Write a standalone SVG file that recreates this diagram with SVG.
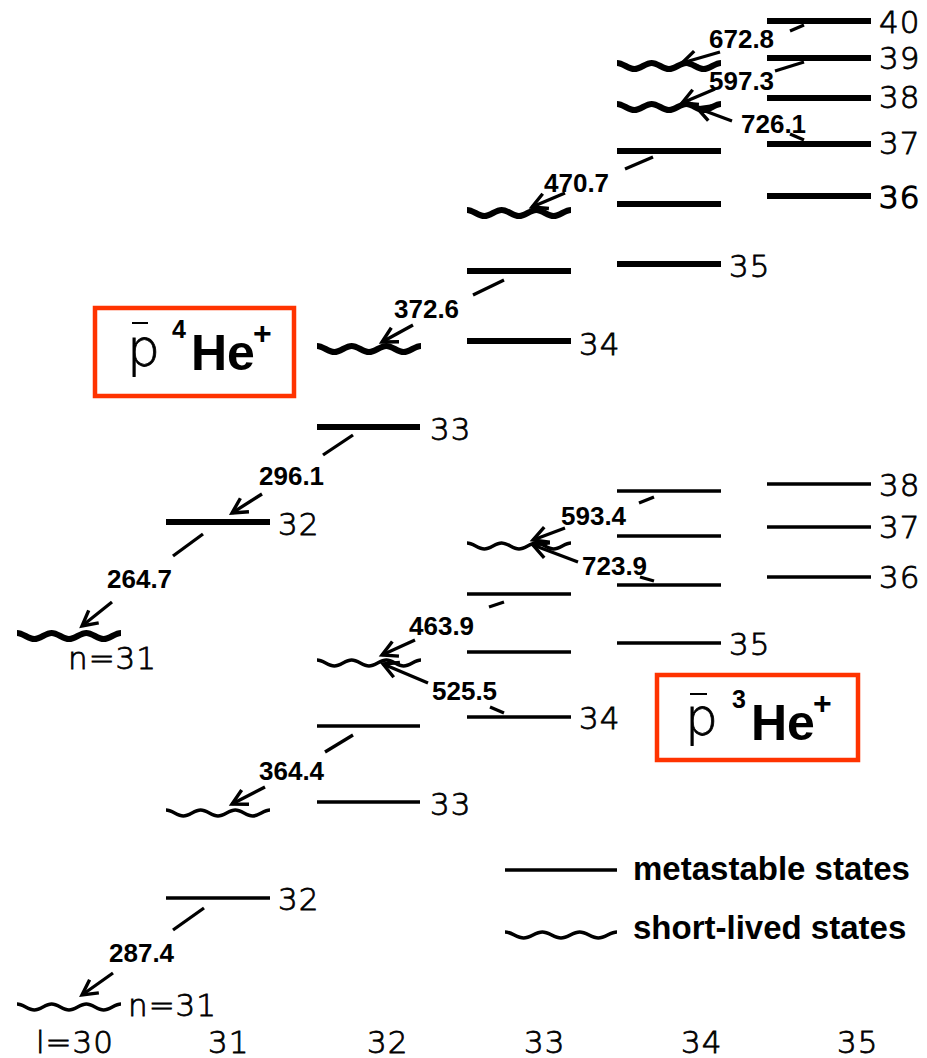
<svg xmlns="http://www.w3.org/2000/svg" xmlns:xlink="http://www.w3.org/1999/xlink" width="927" height="1058" viewBox="0 0 927 1058">
<style>
.thk{stroke:#000;stroke-width:6;fill:none}
.thn{stroke:#000;stroke-width:3.6;fill:none}
.tr{stroke:#000;stroke-width:3.3;fill:none}
.lv{font-family:"DejaVu Sans","Liberation Sans",sans-serif;font-weight:300;font-size:31px;fill:#000;stroke:#000;stroke-width:0.8px;letter-spacing:1px}
.tl{font-family:"Liberation Sans",Arial,sans-serif;font-weight:bold;font-size:26px;fill:#000}
.lg{font-family:"Liberation Sans",Arial,sans-serif;font-weight:bold;font-size:33px;fill:#000}
.box{fill:none;stroke:#ff3300;stroke-width:4.5}
.pf{font-family:"DejaVu Sans","Liberation Sans",sans-serif;font-weight:300;font-size:52px;fill:#000;stroke:#000;stroke-width:0.8px}
.bf{font-family:"Liberation Sans",Arial,sans-serif;font-weight:bold;fill:#000}
</style>
<defs>
<path id="wave" d="M0,-3 c6.2,0 11.1,6 17.33,6 s11.1,-6 17.33,-6 s11.1,6 17.33,6 s11.1,-6 17.33,-6 s11.1,6 17.33,6 s11.1,-6 17.33,-6"/>
<marker id="ah" markerUnits="userSpaceOnUse" markerWidth="30" markerHeight="30" viewBox="-20 -15 30 30" refX="0" refY="0" orient="auto" overflow="visible">
<path d="M-15,-8 L0,0 L-15,8" fill="none" stroke="#000" stroke-width="3.4"/>
</marker>
</defs>

<!-- upper group: pbar 4He+ -->
<g id="he4-l30-n31"><use href="#wave" class="thk" x="17" y="636"/><text class="lv" x="68" y="669">n=31</text></g>
<g id="he4-l31-n32"><line class="thk" x1="166" y1="522" x2="270" y2="522"/><text class="lv" x="278" y="535">32</text></g>
<g id="he4-l32-n33w"><use href="#wave" class="thk" x="317" y="349"/></g>
<g id="he4-l32-n33"><line class="thk" x1="317" y1="427" x2="420" y2="427"/><text class="lv" x="430" y="440">33</text></g>
<g id="he4-l33-w"><use href="#wave" class="thk" x="467" y="213"/></g>
<g id="he4-l33-a"><line class="thk" x1="467" y1="271" x2="571" y2="271"/></g>
<g id="he4-l33-n34"><line class="thk" x1="467" y1="341" x2="571" y2="341"/><text class="lv" x="579" y="355">34</text></g>
<g id="he4-l34-w1"><use href="#wave" class="thk" x="617" y="66"/></g>
<g id="he4-l34-w2"><use href="#wave" class="thk" x="617" y="107"/></g>
<g id="he4-l34-a"><line class="thk" x1="617" y1="151" x2="721" y2="151"/></g>
<g id="he4-l34-b"><line class="thk" x1="617" y1="204" x2="721" y2="204"/></g>
<g id="he4-l34-n35"><line class="thk" x1="617" y1="264" x2="721" y2="264"/><text class="lv" x="729" y="277">35</text></g>
<g id="he4-l35-n40"><line class="thk" x1="767" y1="21" x2="871" y2="21"/><text class="lv" x="879" y="33">40</text></g>
<g id="he4-l35-n39"><line class="thk" x1="767" y1="58" x2="871" y2="58"/><text class="lv" x="879" y="69">39</text></g>
<g id="he4-l35-n38"><line class="thk" x1="767" y1="98" x2="871" y2="98"/><text class="lv" x="879" y="108">38</text></g>
<g id="he4-l35-n37"><line class="thk" x1="767" y1="144" x2="871" y2="144"/><text class="lv" x="879" y="154">37</text></g>
<g id="he4-l35-n36"><line class="thk" x1="767" y1="196" x2="871" y2="196"/><text class="lv" x="879" y="208" style="stroke-width:1.6px">36</text></g>

<!-- lower group: pbar 3He+ -->
<g id="he3-l30-n31"><use href="#wave" class="thn" x="17" y="1007"/><text class="lv" x="128" y="1016">n=31</text></g>
<g id="he3-l31-w"><use href="#wave" class="thn" x="166" y="813"/></g>
<g id="he3-l31-n32"><line class="thn" x1="166" y1="898" x2="270" y2="898"/><text class="lv" x="278" y="910">32</text></g>
<g id="he3-l32-w"><use href="#wave" class="thn" x="317" y="663"/></g>
<g id="he3-l32-a"><line class="thn" x1="317" y1="726" x2="420" y2="726"/></g>
<g id="he3-l32-n33"><line class="thn" x1="317" y1="802" x2="420" y2="802"/><text class="lv" x="430" y="815">33</text></g>
<g id="he3-l33-w"><use href="#wave" class="thn" x="467" y="546"/></g>
<g id="he3-l33-a"><line class="thn" x1="467" y1="594" x2="571" y2="594"/></g>
<g id="he3-l33-b"><line class="thn" x1="467" y1="652" x2="571" y2="652"/></g>
<g id="he3-l33-n34"><line class="thn" x1="467" y1="717" x2="571" y2="717"/><text class="lv" x="579" y="729">34</text></g>
<g id="he3-l34-a"><line class="thn" x1="617" y1="491" x2="721" y2="491"/></g>
<g id="he3-l34-b"><line class="thn" x1="617" y1="536" x2="721" y2="536"/></g>
<g id="he3-l34-c"><line class="thn" x1="617" y1="585" x2="721" y2="585"/></g>
<g id="he3-l34-n35"><line class="thn" x1="617" y1="643" x2="721" y2="643"/><text class="lv" x="729" y="655">35</text></g>
<g id="he3-l35-n38"><line class="thn" x1="767" y1="484" x2="871" y2="484"/><text class="lv" x="879" y="496">38</text></g>
<g id="he3-l35-n37"><line class="thn" x1="767" y1="527" x2="871" y2="527"/><text class="lv" x="879" y="538">37</text></g>
<g id="he3-l35-n36"><line class="thn" x1="767" y1="577" x2="871" y2="577"/><text class="lv" x="879" y="588">36</text></g>

<!-- connectors: transitions -->
<g id="connectors">
<line class="tr" x1="804" y1="25" x2="790" y2="31"/><line class="tr" x1="720" y1="52" x2="682" y2="63" marker-end="url(#ah)"/><text class="tl" x="709" y="48">672.8</text>
<line class="tr" x1="804" y1="62" x2="775" y2="71"/><line class="tr" x1="715" y1="89" x2="682" y2="103" marker-end="url(#ah)"/><text class="tl" x="709" y="90">597.3</text>
<line class="tr" x1="804" y1="140" x2="790" y2="134"/><line class="tr" x1="732" y1="121" x2="697" y2="108" marker-end="url(#ah)"/><text class="tl" x="741" y="133">726.1</text>
<line class="tr" x1="653" y1="157" x2="625" y2="169"/><line class="tr" x1="565" y1="193" x2="532" y2="207" marker-end="url(#ah)"/><text class="tl" x="544" y="192">470.7</text>
<line class="tr" x1="504" y1="280" x2="473" y2="295"/><line class="tr" x1="413" y1="325" x2="382" y2="342" marker-end="url(#ah)"/><text class="tl" x="394" y="318">372.6</text>
<line class="tr" x1="353" y1="435" x2="323" y2="455"/><line class="tr" x1="262" y1="494" x2="232" y2="513" marker-end="url(#ah)"/><text class="tl" x="259" y="485">296.1</text>
<line class="tr" x1="203" y1="534" x2="173" y2="556"/><line class="tr" x1="112" y1="602" x2="82" y2="626" marker-end="url(#ah)"/><text class="tl" x="107" y="588">264.7</text>

<line class="tr" x1="654" y1="497" x2="639" y2="503"/><line class="tr" x1="565" y1="528" x2="533" y2="540" marker-end="url(#ah)"/><text class="tl" x="561" y="525">593.4</text>
<line class="tr" x1="654" y1="581" x2="640" y2="577"/><line class="tr" x1="578" y1="562" x2="533" y2="545" marker-end="url(#ah)"/><text class="tl" x="582" y="575">723.9</text>
<line class="tr" x1="504" y1="602" x2="489" y2="607"/><line class="tr" x1="415" y1="640" x2="382" y2="655" marker-end="url(#ah)"/><text class="tl" x="409" y="635">463.9</text>
<line class="tr" x1="504" y1="713" x2="490" y2="707"/><line class="tr" x1="428" y1="683" x2="383" y2="664" marker-end="url(#ah)"/><text class="tl" x="432" y="700">525.5</text>
<line class="tr" x1="353" y1="735" x2="325" y2="752"/><line class="tr" x1="265" y1="787" x2="232" y2="804" marker-end="url(#ah)"/><text class="tl" x="259" y="780">364.4</text>
<line class="tr" x1="204" y1="908" x2="173" y2="930"/><line class="tr" x1="113" y1="973" x2="82" y2="995" marker-end="url(#ah)"/><text class="tl" x="109" y="962">287.4</text>
</g>

<!-- species boxes -->
<g id="box-he4">
<rect class="box" x="95" y="308" width="199" height="88"/>
<line x1="132" y1="323" x2="148" y2="323" stroke="#000" stroke-width="2"/>
<text class="pf" x="127" y="366">p</text>
<text class="bf" x="172" y="338" font-size="25">4</text>
<text class="bf" x="191" y="370" font-size="50">He</text>
<text class="bf" x="253" y="344" font-size="32">+</text>
</g>
<g id="box-he3">
<rect class="box" x="657" y="675" width="201" height="85"/>
<line x1="690" y1="694" x2="707" y2="694" stroke="#000" stroke-width="2"/>
<text class="pf" x="685" y="735">p</text>
<text class="bf" x="732" y="708" font-size="25">3</text>
<text class="bf" x="751" y="740" font-size="50">He</text>
<text class="bf" x="813" y="714" font-size="32">+</text>
</g>

<!-- legend -->
<g id="legend">
<line class="thn" x1="505" y1="870" x2="617" y2="870"/>
<text class="lg" x="633" y="880">metastable states</text>
<use href="#wave" class="thn" transform="translate(505,935) scale(1.077,1)"/>
<text class="lg" x="633" y="939">short-lived states</text>
</g>

<!-- axis labels -->
<g id="axis">
<text class="lv" x="36" y="1053">l=30</text>
<text class="lv" x="208" y="1053">31</text>
<text class="lv" x="367" y="1053">32</text>
<text class="lv" x="524" y="1053">33</text>
<text class="lv" x="681" y="1053">34</text>
<text class="lv" x="837" y="1053">35</text>
</g>
</svg>
